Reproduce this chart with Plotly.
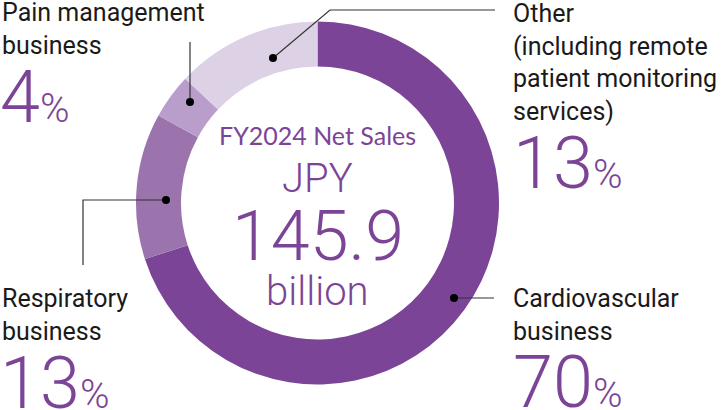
import plotly.graph_objects as go

W, H = 723, 410

# segment data (clockwise from 12 o'clock)
segments = ["Cardiovascular business", "Respiratory business",
            "Pain management business", "Other"]
shares = [70, 13, 4, 13]
colors = ["#7b4497", "#9b74ae", "#b99dcb", "#ddd1e6"]

PURPLE = "#7b4497"
INK = "#1a1a1a"


def px(x):
    return x / W


def py(y):
    return 1 - y / H


fig = go.Figure(go.Pie(
    labels=segments,
    values=shares,
    sort=False,
    direction="clockwise",
    rotation=0,
    hole=0.752,
    marker=dict(colors=colors, line=dict(width=0)),
    textinfo="none",
    hoverinfo="label+percent",
    domain=dict(x=[px(136), px(499)], y=[py(384.5), py(21.5)]),
))

# leader lines: (points in pixels), dot at the first point
leaders = [
    [(273, 58), (330, 10), (495, 10)],
    [(190, 102), (190, 42)],
    [(166, 200), (83, 200), (83, 265)],
    [(454, 298), (494, 298)],
]
shapes = []
for pts in leaders:
    path = "M " + " L ".join(f"{px(x)},{py(y)}" for x, y in pts)
    shapes.append(dict(type="path", path=path, xref="paper", yref="paper",
                       line=dict(color="#333333", width=1.2)))
    dx, dy = pts[0]
    shapes.append(dict(type="circle", xref="paper", yref="paper",
                       x0=px(dx - 4), x1=px(dx + 4), y0=py(dy + 4), y1=py(dy - 4),
                       fillcolor="#000000", line=dict(width=0)))

annotations = []


def text(x, baseline, s, size, color=INK, family="Roboto", weight=400,
         anchor="left", lines=1, asc=0.34):
    # place by first-line baseline
    mid = baseline + (lines - 1) * 1.3 * size / 2 - asc * size
    annotations.append(dict(x=px(x), y=py(mid), xref="paper", yref="paper",
                            text=s, showarrow=False, xanchor=anchor,
                            yanchor="middle", align=anchor,
                            font=dict(size=size, color=color, family=family,
                                      weight=weight)))


def pct(x, baseline, n):
    s = f"{n}<span style='font-size:40px'>%</span>"
    text(x, baseline, s, 72, color=PURPLE, weight=300)


# side labels
text(0, 21, "Pain management<br>business", 25, lines=2)
pct(-2, 122, shares[2])

text(511, 22, "Other<br>(including remote<br>patient monitoring<br>services)", 25, lines=4)
pct(511, 188, shares[3])

text(0, 307, "Respiratory<br>business", 25, lines=2)
pct(-2, 408, shares[1])

text(511, 307, "Cardiovascular<br>business", 25, lines=2)
pct(511, 407, shares[0])

# centre
cx = 317.5
text(cx, 145, "FY2024 Net Sales", 25, color=PURPLE, family="Lato",
     anchor="center", asc=0.387)
text(cx, 192, "JPY", 40, color=PURPLE, weight=300, anchor="center")
text(cx, 260, "145.9", 70, color=PURPLE, weight=300, anchor="center")
text(cx, 305, "billion", 40, color=PURPLE, weight=300, anchor="center")

fig.update_layout(
    width=W, height=H,
    margin=dict(l=0, r=0, t=0, b=0),
    paper_bgcolor="white",
    plot_bgcolor="white",
    showlegend=False,
    shapes=shapes,
    annotations=annotations,
)

# drop the default page margin so the chart sits at the window corner
fig.write_html("out.html", config={"displayModeBar": False},
               post_script="document.body.style.margin = '0';")
